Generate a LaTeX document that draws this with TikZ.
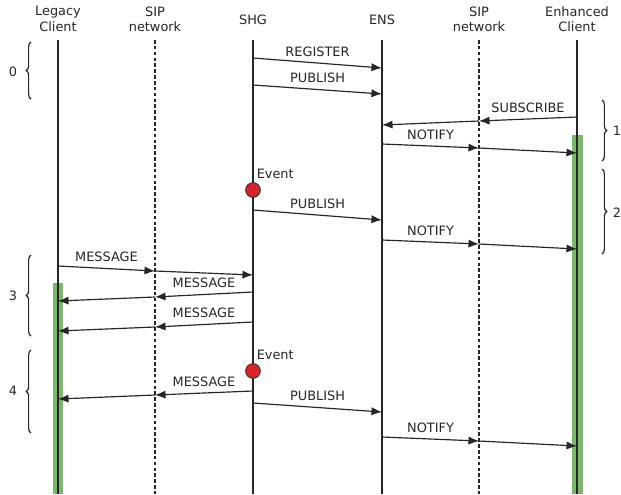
\documentclass[tikz,border=0pt]{standalone}
\usepackage{fontspec}
\setmainfont{DejaVu Sans}
\usetikzlibrary{arrows.meta,decorations.pathreplacing}

\definecolor{actgreen}{RGB}{122,184,108}
\definecolor{evred}{RGB}{214,36,42}

\begin{document}
\begin{tikzpicture}[x=0.03cm,y=-0.03cm,
    font=\fontsize{11}{13}\selectfont,
    every node/.style={text=black!85},
    life/.style={line width=1pt,black!85},
    sipline/.style={line width=1.2pt,black!85,dash pattern=on 3pt off 2pt},
    msg/.style={line width=1pt,black!85,-{Latex[length=9pt,width=7pt]}},
    lbl/.style={above=3pt,inner sep=2pt},
    event/.style={circle,fill=evred,draw=black!80,line width=0.8pt,
      minimum size=0.44cm,inner sep=0pt},
    bracket/.style={decorate,decoration={brace,amplitude=4pt},
      line width=1pt,black!85}]
  \useasboundingbox (0,0) rectangle (621,494);

  % heads of the lifelines
  \path
    (58,19) node[align=center] (lc){Legacy\\Client}
    (155,19) node[align=center] (sip1){SIP\\network}
    (253,20) node (shg){SHG}
    (382,20) node (ens){ENS}
    (479,19) node[align=center] (sip2){SIP\\network}
    (577,19) node[align=center] (ec){Enhanced\\Client};

  % activation bars
  \fill[actgreen] (53,283) rectangle (63,494);
  \fill[actgreen] (572,135) rectangle (583,494);

  % lifelines
  \draw[life] (lc |- 0,40) -- (lc |- 0,494);
  \draw[sipline] (sip1 |- 0,40) -- (sip1 |- 0,494);
  \draw[life] (shg |- 0,40) -- (shg |- 0,494);
  \draw[life] (ens |- 0,40) -- (ens |- 0,494);
  \draw[sipline] (sip2 |- 0,40) -- (sip2 |- 0,494);
  \draw[life] (ec |- 0,40) -- (ec |- 0,494);

  % events on the gateway
  \node[event] (ev1) at (shg |- 0,190) {};
  \node[anchor=south west,inner sep=1pt] (evl1) at ([xshift=2pt,yshift=1.5pt]ev1.north) {Event};
  \node[event] (ev2) at (shg |- 0,371) {};
  \node[anchor=south west,inner sep=1pt] (evl2) at ([xshift=2pt,yshift=1.5pt]ev2.north) {Event};

  % messages
  \begin{scope}[msg]
    \draw (shg |- 0,58) -- node[lbl]{REGISTER} (ens |- 0,68);
    \draw (shg |- 0,85) -- node[lbl]{PUBLISH} (ens |- 0,94);
    \draw (ec |- 0,117) -- node[lbl]{SUBSCRIBE} (sip2 |- 0,121);
    \draw (sip2 |- 0,121) -- (ens |- 0,125);
    \draw (ens |- 0,144) -- node[lbl]{NOTIFY} (sip2 |- 0,148);
    \draw (sip2 |- 0,148) -- (ec |- 0,153);
    \draw (shg |- 0,210) -- node[lbl]{PUBLISH} (ens |- 0,220);
    \draw (ens |- 0,240) -- node[lbl]{NOTIFY} (sip2 |- 0,244);
    \draw (sip2 |- 0,244) -- (ec |- 0,249);
    \draw (lc |- 0,266) -- node[lbl]{MESSAGE} (sip1 |- 0,271);
    \draw (sip1 |- 0,271) -- (shg |- 0,275);
    \draw (shg |- 0,292) -- node[lbl]{MESSAGE} (sip1 |- 0,297);
    \draw (sip1 |- 0,297) -- (lc |- 0,301);
    \draw (shg |- 0,322) -- node[lbl]{MESSAGE} (sip1 |- 0,327);
    \draw (sip1 |- 0,327) -- (lc |- 0,331);
    \draw (shg |- 0,391) -- node[lbl]{MESSAGE} (sip1 |- 0,395);
    \draw (sip1 |- 0,395) -- (lc |- 0,399);
    \draw (shg |- 0,403) -- node[lbl]{PUBLISH} (ens |- 0,412);
    \draw (ens |- 0,437) -- node[lbl]{NOTIFY} (sip2 |- 0,441);
    \draw (sip2 |- 0,441) -- (ec |- 0,446);
  \end{scope}

  % phases
  \draw[bracket] (31,99) -- (31,42);
  \draw[bracket] (31,336) -- (31,255);
  \draw[bracket] (31,433) -- (31,350);
  \draw[bracket] (602,100) -- (602,161);
  \draw[bracket] (602,169) -- (602,254);
  \path
    (13,72) node (p0){0}
    (617,131) node (p1){1}
    (617,213) node (p2){2}
    (13,296) node (p3){3}
    (13,391) node (p4){4};
\end{tikzpicture}
\end{document}
